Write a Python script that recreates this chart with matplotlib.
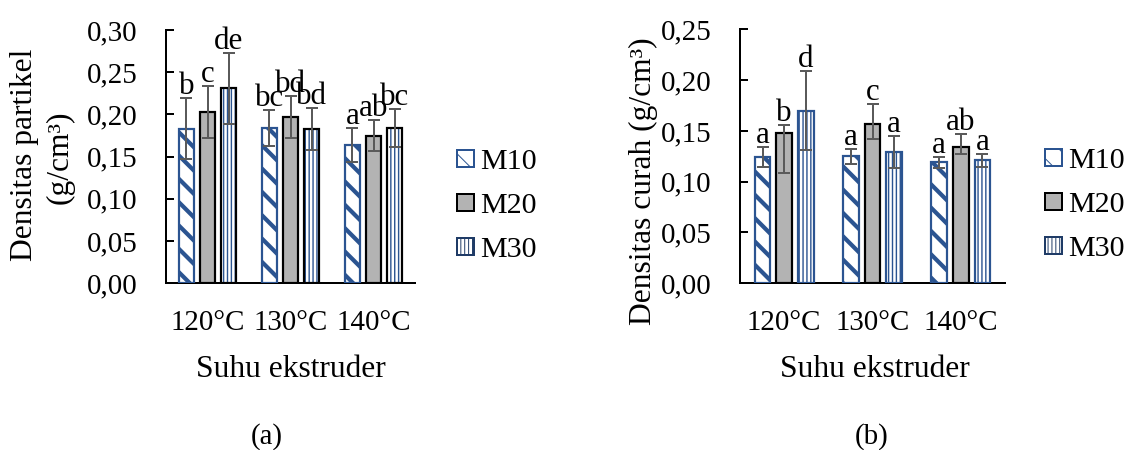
import numpy as np
import matplotlib
matplotlib.use("Agg")
import matplotlib.pyplot as plt
import matplotlib.patches as mpatches
from matplotlib.ticker import FuncFormatter

# ---------------- data ----------------
categories = ["120°C", "130°C", "140°C"]
series = ["M10", "M20", "M30"]

# (a) Densitas partikel
part_M10 = [0.183, 0.184, 0.164]
part_M20 = [0.203, 0.197, 0.175]
part_M30 = [0.231, 0.183, 0.184]
part_M10_err = [0.036, 0.021, 0.020]
part_M20_err = [0.031, 0.025, 0.018]
part_M30_err = [0.042, 0.025, 0.022]
part_M10_lab = ["b", "bc", "a"]
part_M20_lab = ["c", "bd", "ab"]
part_M30_lab = ["de", "bd", "bc"]

# (b) Densitas curah
cur_M10 = [0.124, 0.125, 0.119]
cur_M20 = [0.148, 0.157, 0.134]
cur_M30 = [0.170, 0.129, 0.121]
cur_M10_err_lo = [0.010, 0.0075, 0.0052]
cur_M10_err_hi = [0.010, 0.0075, 0.0052]
cur_M20_err_lo = [0.039, 0.015, 0.007]
cur_M20_err_hi = [0.008, 0.019, 0.013]
cur_M30_err_lo = [0.039, 0.0155, 0.0063]
cur_M30_err_hi = [0.039, 0.0155, 0.0063]
cur_M10_lab = ["a", "a", "a"]
cur_M20_lab = ["b", "c", "ab"]
cur_M30_lab = ["d", "a", "a"]

# ---------------- style ----------------
DPI = 70
def px(p):
    return p * 72.0 / DPI

BLUE = "#2B5491"
GREY = "#B3B3B3"
ERR = "#5A5A5A"
FONT = ["Liberation Serif", "DejaVu Serif"]
plt.rcParams["font.family"] = FONT

TICK_FS = px(29)
TITLE_FS = px(31.5)
LEG_FS = px(30)
LAB_FS = px(31)

W, H = 1127, 450
fig = plt.figure(figsize=(W / DPI, H / DPI), dpi=DPI)


def set_hlw(artist, lw):
    if hasattr(artist, "set_hatch_linewidth"):
        artist.set_hatch_linewidth(lw)


def hatched_bar(ax, x, v, w, hatch, hlw, edge, elw):
    with plt.rc_context({"hatch.linewidth": hlw, "hatch.color": BLUE}):
        c1 = ax.bar(x, v, w, color="white", edgecolor=BLUE, hatch=hatch,
                    linewidth=0, zorder=2)
    for p in c1:
        set_hlw(p, hlw)
    ax.bar(x, v, w, fill=False, edgecolor=edge, linewidth=elw, zorder=3)


def panel(ax, vals, errs, labs, width, step, ymax, m30_edge):
    x = np.arange(len(categories))
    offs = [-step, 0.0, step]
    elw = px(2.2)
    # M10
    hatched_bar(ax, x + offs[0], vals[0], width, "\\", px(4.2), BLUE, elw)
    # M20
    ax.bar(x + offs[1], vals[1], width, color=GREY, edgecolor="black",
           linewidth=elw, zorder=3)
    # M30
    hatched_bar(ax, x + offs[2], vals[2], width, "|||", px(1.4), m30_edge, elw)
    for i in range(3):
        lo, hi = errs[i]
        ax.errorbar(x + offs[i], vals[i], yerr=[lo, hi], fmt="none",
                    ecolor=ERR, elinewidth=px(2), capsize=px(6),
                    capthick=px(2), zorder=4)
        for j in range(3):
            ax.annotate(labs[i][j], (x[j] + offs[i], vals[i][j] + hi[j]),
                        xytext=(0, px(4)), textcoords="offset points",
                        ha="center", va="baseline", fontsize=LAB_FS,
                        zorder=5)
    ax.set_xlim(-0.5, 2.5)
    ax.set_ylim(0, ymax)
    ax.set_yticks(np.arange(0, ymax + 1e-9, 0.05))
    ax.yaxis.set_major_formatter(FuncFormatter(lambda v, p: f"{v:.2f}".replace(".", ",")))
    ax.set_xticks(x)
    ax.set_xticklabels(categories)
    for s in ["top", "right"]:
        ax.spines[s].set_visible(False)
    for s in ["left", "bottom"]:
        ax.spines[s].set_linewidth(px(2))
        ax.spines[s].set_color("black")
    ax.tick_params(axis="y", direction="in", length=px(8), width=px(2),
                   pad=px(28), labelsize=TICK_FS)
    ax.tick_params(axis="x", length=0, pad=px(27), labelsize=TICK_FS)
    ax.set_facecolor("none")


axL = fig.add_axes([166 / W, 1 - 283.3 / H, 249 / W, 253.3 / H])
panel(axL,
      [part_M10, part_M20, part_M30],
      [(part_M10_err, part_M10_err), (part_M20_err, part_M20_err), (part_M30_err, part_M30_err)],
      [part_M10_lab, part_M20_lab, part_M30_lab],
      0.187, 0.255, 0.30, "black")

axR = fig.add_axes([740 / W, 1 - 283.3 / H, 265 / W, 254 / H])
panel(axR,
      [cur_M10, cur_M20, cur_M30],
      [(cur_M10_err_lo, cur_M10_err_hi), (cur_M20_err_lo, cur_M20_err_hi), (cur_M30_err_lo, cur_M30_err_hi)],
      [cur_M10_lab, cur_M20_lab, cur_M30_lab],
      0.18, 0.245, 0.25, BLUE)


def legend_handles():
    with plt.rc_context({"hatch.linewidth": px(3.5), "hatch.color": BLUE}):
        h1 = mpatches.Patch(facecolor="white", edgecolor=BLUE, hatch="\\",
                            linewidth=px(2), label=series[0])
    set_hlw(h1, px(3.5))
    h2 = mpatches.Patch(facecolor=GREY, edgecolor="black", linewidth=px(2),
                        label=series[1])
    with plt.rc_context({"hatch.linewidth": px(1.4), "hatch.color": BLUE}):
        h3 = mpatches.Patch(facecolor="white", edgecolor="#1F3B66", hatch="|||",
                            linewidth=px(2), label=series[2])
    set_hlw(h3, px(1.4))
    return [h1, h2, h3]


for xl, yc in [(457, 206), (1045, 205)]:
    fig.legend(handles=legend_handles(), loc="center left",
               bbox_to_anchor=(xl / W, 1 - yc / H), frameon=False,
               fontsize=LEG_FS, handlelength=0.57, handleheight=0.5,
               handletextpad=0.2, labelspacing=0.6, borderpad=0,
               borderaxespad=0)

# axis titles
fig.text(25 / W, 1 - 155 / H, "Densitas partikel", rotation=90,
         ha="center", va="center", fontsize=TITLE_FS)
fig.text(60 / W, 1 - 157 / H, "(g/cm³)", rotation=90,
         ha="center", va="center", fontsize=TITLE_FS)
fig.text(643 / W, 1 - 181 / H, "Densitas curah (g/cm³)", rotation=90,
         ha="center", va="center", fontsize=TITLE_FS)
fig.text(290.5 / W, 1 - 377 / H, "Suhu ekstruder", ha="center",
         va="baseline", fontsize=TITLE_FS)
fig.text(875 / W, 1 - 377 / H, "Suhu ekstruder", ha="center",
         va="baseline", fontsize=TITLE_FS)
fig.text(267 / W, 1 - 437 / H, "(a)", ha="center", va="center",
         fontsize=px(29))
fig.text(872 / W, 1 - 437 / H, "(b)", ha="center", va="center",
         fontsize=px(29))

fig.savefig("out.png", dpi=DPI, facecolor="white")
